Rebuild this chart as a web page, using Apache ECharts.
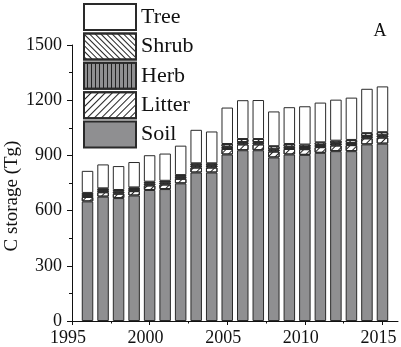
<!DOCTYPE html>
<html>
<head>
<meta charset="utf-8">
<script src="https://cdn.jsdelivr.net/npm/echarts@6/dist/echarts.min.js"></script>
<style>
html,body{margin:0;padding:0;background:#fff;}
#chart{width:401px;height:347px;}
</style>
</head>
<body>
<div id="chart"></div>
<script>
var years = [1996,1997,1998,1999,2000,2001,2002,2003,2004,2005,2006,2007,2008,2009,2010,2011,2012,2013,2014,2015];
var soil   = [650,676,668,682,712,717,748,807,807,905,928,928,889,905,903,914,923,923,960,964];
var litter = [24,24,24,24,25,25,25,27,27,30,32,32,32,30,31,31,31,33,33,33];
var herb   = [11,11,11,11,11,11,11,12,12,12,12,12,12,12,12,12,12,12,12,12];
var shrub  = [11,10,9,9,9,9,9,11,11,15,17,17,17,15,13,14,14,16,16,17];
var tree   = [120,130,130,138,144,148,160,182,173,198,211,212,189,200,208,216,223,230,241,249];
var xTicks = [1995,2000,2005,2010,2015];
var xMinorTicks = [1997.5,2002.5,2007.5,2012.5];
var legendNames = ['Tree','Shrub','Herb','Litter','Soil'];
var xMin = 1995, xMax = 2016;

var FONT = 'Liberation Serif';
var chart = echarts.init(document.getElementById('chart'), null, {renderer:'canvas'});

// category slots spanning xMin..xMax so positions line up with the value axis
var slots = [];
for (var y = xMin; y <= xMax; y++) slots.push(String(y));
function toSlots(arr){
  return slots.map(function(s){
    var i = years.indexOf(Number(s));
    return i < 0 ? '-' : arr[i];
  });
}
var border = {borderColor:'#2a2a2a', borderWidth:1};
function barSeries(name, arr, style){
  return {
    name:name, type:'bar', stack:'total', barWidth:11.5, xAxisIndex:0,
    data:toSlots(arr),
    itemStyle:Object.assign({}, border, style),
    emphasis:{disabled:true}
  };
}
function plain(v){ return String(v); }

var option = {
  animation:false,
  backgroundColor:'#fff',
  grid:{left:72, right:3, top:45, bottom:23},
  legend:{
    data:legendNames, orient:'vertical', left:83, top:3, padding:0,
    itemWidth:52, itemHeight:26, itemGap:1.4, icon:'rect',
    textStyle:{fontFamily:FONT, fontSize:22, lineHeight:26, color:'#111'},
    selectedMode:false
  },
  xAxis:[{
    type:'category', data:slots, boundaryGap:false,
    axisLine:{show:false}, axisTick:{show:false}, axisLabel:{show:false}, splitLine:{show:false}
  },{
    type:'value', min:xMin, max:xMax, position:'bottom',
    splitLine:{show:false},
    axisLine:{lineStyle:{color:'#111', width:1}},
    axisTick:{customValues:xTicks, length:4, lineStyle:{color:'#111'}},
    axisLabel:{customValues:xTicks, formatter:plain, fontFamily:FONT, fontSize:18, color:'#111', margin:8, padding:[0,8,0,0]}
  },{
    type:'value', min:xMin, max:xMax, position:'bottom',
    splitLine:{show:false},
    axisLine:{show:false},
    axisTick:{customValues:xMinorTicks, length:2.5, lineStyle:{color:'#111'}},
    axisLabel:{show:false}
  }],
  yAxis:{
    type:'value', min:0, max:1500, interval:300,
    splitLine:{show:false},
    axisLine:{show:true, lineStyle:{color:'#111', width:1}},
    axisTick:{show:true, length:5, lineStyle:{color:'#111'}},
    minorTick:{show:true, splitNumber:2, length:3, lineStyle:{color:'#111'}},
    axisLabel:{formatter:plain, fontFamily:FONT, fontSize:18, color:'#111', margin:10}
  },
  graphic:[
    {type:'text', x:12, y:196, rotation:Math.PI/2,
     style:{text:'C storage (Tg)', font:'19px "Liberation Serif"', fill:'#111', textAlign:'center', textVerticalAlign:'middle'}},
    {type:'text', x:380, y:31,
     style:{text:'A', font:'18px "Liberation Serif"', fill:'#111', textAlign:'center', textVerticalAlign:'middle'}}
  ],
  series:[
    barSeries('Soil', soil, {color:'#8f8f91'}),
    barSeries('Litter', litter, {color:'#ffffff', decal:{symbol:'rect', color:'#222', dashArrayX:[1,0], dashArrayY:[1,4], rotation:-Math.PI/4}}),
    barSeries('Herb', herb, {color:'#8f8f91', decal:{symbol:'rect', color:'#222', dashArrayX:[1,0], dashArrayY:[1,3], rotation:Math.PI/2}}),
    barSeries('Shrub', shrub, {color:'#ffffff', decal:{symbol:'rect', color:'#222', dashArrayX:[1,0], dashArrayY:[1,3], rotation:Math.PI/4}}),
    barSeries('Tree', tree, {color:'#ffffff'})
  ]
};
chart.setOption(option);
</script>
</body>
</html>
